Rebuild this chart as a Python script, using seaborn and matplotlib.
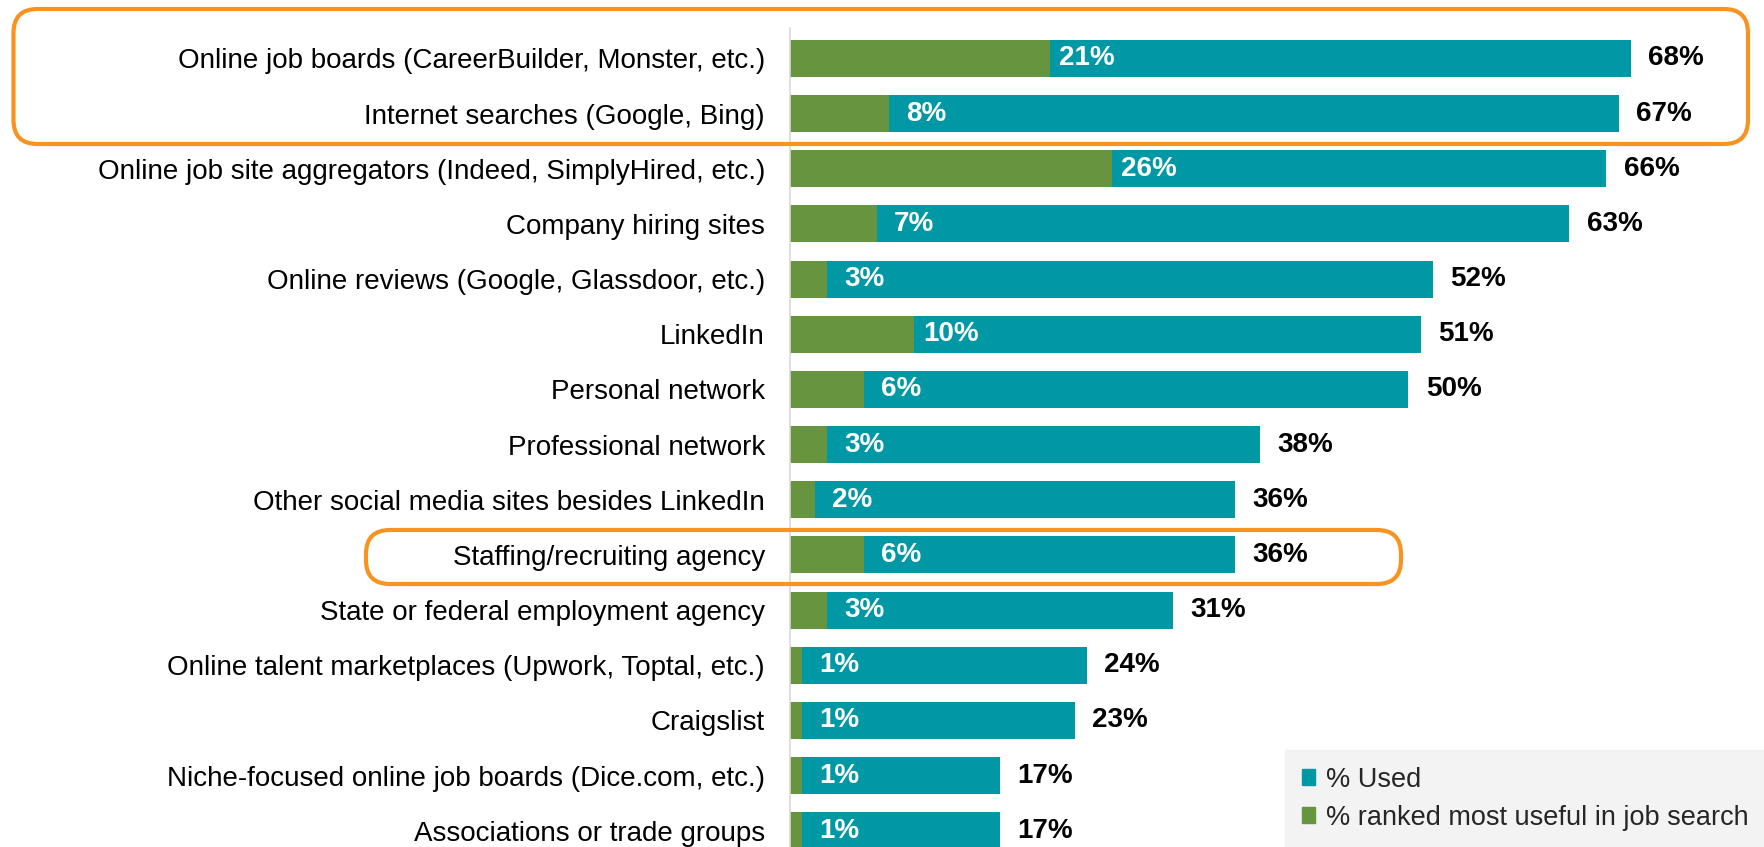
import pandas as pd
import matplotlib.pyplot as plt
import seaborn as sns
from matplotlib.patches import FancyBboxPatch, Patch

# Daten
sources = [
    "Online job boards (CareerBuilder, Monster, etc.)",
    "Internet searches (Google, Bing)",
    "Online job site aggregators (Indeed, SimplyHired, etc.)",
    "Company hiring sites",
    "Online reviews (Google, Glassdoor, etc.)",
    "LinkedIn",
    "Personal network",
    "Professional network",
    "Other social media sites besides LinkedIn",
    "Staffing/recruiting agency",
    "State or federal employment agency",
    "Online talent marketplaces (Upwork, Toptal, etc.)",
    "Craigslist",
    "Niche-focused online job boards (Dice.com, etc.)",
    "Associations or trade groups",
]
pct_used = [68, 67, 66, 63, 52, 51, 50, 38, 36, 36, 31, 24, 23, 17, 17]
pct_useful = [21, 8, 26, 7, 3, 10, 6, 3, 2, 6, 3, 1, 1, 1, 1]

TEAL = "#0098A5"
GREEN = "#67943F"
ORANGE = "#F7931E"

sns.set_theme(style="white")
plt.rcParams["font.family"] = ["Liberation Sans", "DejaVu Sans"]

df = pd.DataFrame({"source": sources, "used": pct_used, "useful": pct_useful})

fig = plt.figure(figsize=(17.65, 8.47), dpi=100)
ax = fig.add_axes([790 / 1765, 0, 975 / 1765, 819 / 847])

sns.barplot(data=df, y="source", x="used", color=TEAL, orient="h",
            width=0.67, saturation=1, linewidth=0, ax=ax)
sns.barplot(data=df, y="source", x="useful", color=GREEN, orient="h",
            width=0.67, saturation=1, linewidth=0, ax=ax)

px_per_pct = 12.37
ax.set_xlim(0, 975 / px_per_pct)
ax.set_ylim(14 + 16.3 / 55.2, -30.5 / 55.2)

for i, (u, g) in enumerate(zip(pct_used, pct_useful)):
    ax.text(g + 3.0, i, f"{g}%", color="white", fontsize=20, fontweight="bold",
            ha="center", va="center")
    ax.text(u + 1.4, i, f"{u}%", color="black", fontsize=20, fontweight="bold",
            ha="left", va="center")

ax.set_xlabel("")
ax.set_ylabel("")
ax.set_xticks([])
ax.tick_params(axis="y", length=0, pad=18, labelsize=20, labelcolor="black")
for side in ["top", "right", "bottom"]:
    ax.spines[side].set_visible(False)
ax.spines["left"].set_color("#D9D9D9")
ax.spines["left"].set_linewidth(1.2)

# Legende unten rechts
handles = [Patch(color=TEAL, label="% Used"),
           Patch(color=GREEN, label="% ranked most useful in job search")]
leg = fig.legend(handles=handles, loc="lower right", bbox_to_anchor=(1.0, 0.0),
                 fontsize=19.5, frameon=True, fancybox=False, borderaxespad=0,
                 handlelength=0.5, handleheight=0.5, handletextpad=0.4,
                 labelspacing=0.45, borderpad=0.6)
leg.get_frame().set_facecolor("#F1F1F1")
leg.get_frame().set_edgecolor("#F1F1F1")

# orange Markierungen (Zoll-Koordinaten)
boxes = [(0.135, 7.03, 17.345, 1.35), (3.66, 2.63, 10.35, 0.54)]
for x0, y0, w, h in boxes:
    fig.patches.append(FancyBboxPatch(
        (x0, y0), w, h, boxstyle="round,pad=0,rounding_size=0.24",
        transform=fig.dpi_scale_trans, fill=False, edgecolor=ORANGE,
        linewidth=3, zorder=10))

fig.savefig("out.png", dpi=100)
